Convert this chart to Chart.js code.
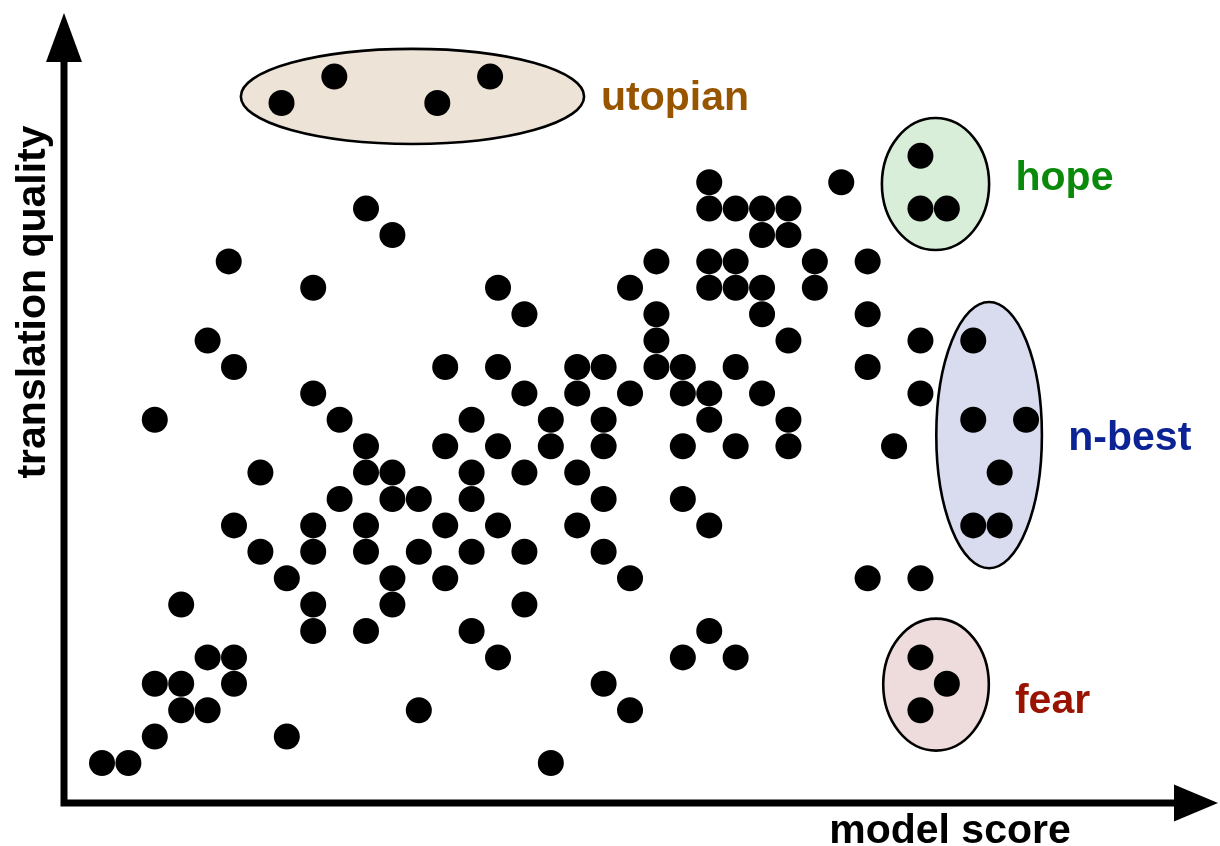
<!DOCTYPE html>
<html><head><meta charset="utf-8">
<script src="https://cdn.jsdelivr.net/npm/chart.js@4/dist/chart.umd.min.js"></script>
<style>html,body{margin:0;padding:0;background:#fff;overflow:hidden}#wrap{width:1220px;height:846px;position:relative}</style>
</head><body><div id="wrap"><canvas id="c" width="1220" height="846"></canvas></div>
<script>
// ---- data (model score = x, translation quality = y) ----
const qualityLevels = [0,1,2,3,4,5,6,7,8,9,10,11,12,13,14,15,16,17,18,19,20,21,22];
const scoresPerLevel = [
  [0,1,17],
  [2,7],
  [3,4,12,20],
  [2,3,5,19],
  [4,5,15,22,24],
  [8,10,14,23],
  [3,8,11,16],
  [7,11,13,20,29,31],
  [6,8,10,12,14,16,19],
  [5,8,10,13,15,18,23],
  [9,11,12,14,19,22],
  [6,10,11,14,16,18],
  [10,13,15,17,19,22,24,26,30],
  [2,9,14,17,19,23,26],
  [8,16,18,20,22,23,25,31],
  [5,13,15,18,19,21,22,24,29],
  [4,21,26,31],
  [16,21,25,29],
  [8,15,20,23,24,25,27],
  [4.8,21,23,24,27,29],
  [11,25,26],
  [10,23,24,25,26],
  [23,28]
];
const utopianScore = [6.8, 8.8, 12.7, 14.7];
const utopianQuality = [25.0, 26.0, 25.0, 26.0];
const hopeScore = [31, 31, 32];
const hopeQuality = [23, 21, 21];
const nbestScore = [33, 33, 35, 34, 33, 34];
const nbestQuality = [16, 13, 13, 11, 9, 9];
const fearScore = [31, 32, 31];
const fearQuality = [4, 3, 2];
const groupLabels = ['utopian', 'hope', 'n-best', 'fear'];
const axisTitles = ['model score', 'translation quality'];

// ---- build datasets ----
const cloud = [];
qualityLevels.forEach((q, i) => scoresPerLevel[i].forEach(s => cloud.push({x: s, y: q})));
const zip = (xs, ys) => xs.map((x, i) => ({x, y: ys[i]}));
const groupData = [zip(utopianScore, utopianQuality), zip(hopeScore, hopeQuality), zip(nbestScore, nbestQuality), zip(fearScore, fearQuality)];

// ---- annotation styling (data units) ----
const groupStyle = [
  {fill: '#ede3d7', text: '#985500', cx: 11.76, cy: 25.25, rx: 6.5, ry: 1.8, lx: 18.9, ly: 25.18},
  {fill: '#d9eed9', text: '#0a8a0a', cx: 31.57, cy: 21.93, rx: 2.03, ry: 2.5, lx: 34.6, ly: 22.15},
  {fill: '#d9dcef', text: '#0c2396', cx: 33.6, cy: 12.42, rx: 2.0, ry: 5.04, lx: 36.6, ly: 12.3},
  {fill: '#eedcdc', text: '#9a1200', cx: 31.59, cy: 2.97, rx: 2.0, ry: 2.5, lx: 34.58, ly: 2.34}
];
const FONT = '"Liberation Sans", Arial, Helvetica, sans-serif';

const overlay = {
  id: 'overlay',
  beforeDatasetsDraw(chart) {
    const {ctx, scales: {x, y}} = chart;
    ctx.save();
    groupStyle.forEach(g => {
      const px = x.getPixelForValue(g.cx), py = y.getPixelForValue(g.cy);
      const rx = Math.abs(x.getPixelForValue(g.cx + g.rx) - px);
      const ry = Math.abs(y.getPixelForValue(g.cy + g.ry) - py);
      ctx.beginPath();
      ctx.ellipse(px, py, rx, ry, 0, 0, Math.PI * 2);
      ctx.fillStyle = g.fill;
      ctx.fill();
      ctx.lineWidth = 2.6;
      ctx.strokeStyle = '#000';
      ctx.stroke();
    });
    ctx.restore();
  },
  afterDatasetsDraw(chart) {
    const {ctx, chartArea: a, scales: {x, y}} = chart;
    ctx.save();
    // group labels
    ctx.font = 'bold 41px ' + FONT;
    ctx.textBaseline = 'middle';
    ctx.textAlign = 'left';
    groupStyle.forEach((g, i) => {
      ctx.fillStyle = g.text;
      ctx.fillText(groupLabels[i], x.getPixelForValue(g.lx), y.getPixelForValue(g.ly));
    });
    // axes with arrows
    ctx.fillStyle = '#000';
    ctx.strokeStyle = '#000';
    ctx.lineWidth = 7;
    ctx.lineCap = 'butt';
    ctx.beginPath();
    ctx.moveTo(a.left, a.top + 45);
    ctx.lineTo(a.left, a.bottom + 3.5);
    ctx.moveTo(a.left - 3.5, a.bottom);
    ctx.lineTo(a.right - 40, a.bottom);
    ctx.stroke();
    ctx.beginPath();
    ctx.moveTo(a.left, a.top);
    ctx.lineTo(a.left - 18, a.top + 49);
    ctx.lineTo(a.left + 18, a.top + 49);
    ctx.closePath();
    ctx.fill();
    ctx.beginPath();
    ctx.moveTo(a.right, a.bottom);
    ctx.lineTo(a.right - 44, a.bottom - 18.5);
    ctx.lineTo(a.right - 44, a.bottom + 18.5);
    ctx.closePath();
    ctx.fill();
    // axis titles
    ctx.font = 'bold 41px ' + FONT;
    ctx.textAlign = 'center';
    ctx.textBaseline = 'alphabetic';
    ctx.fillText(axisTitles[0], 950, 843);
    ctx.translate(45, 302);
    ctx.rotate(-Math.PI / 2);
    ctx.fillText(axisTitles[1], 0, 0);
    ctx.restore();
  }
};

const pointStyle = {backgroundColor: '#000', borderWidth: 0, pointRadius: 13, pointHoverRadius: 13, clip: false};
new Chart(document.getElementById('c'), {
  type: 'scatter',
  data: {
    datasets: [
      Object.assign({label: 'n-best list', data: cloud}, pointStyle),
      ...groupData.map((d, i) => Object.assign({label: groupLabels[i], data: d}, pointStyle))
    ]
  },
  options: {
    responsive: false,
    animation: false,
    devicePixelRatio: 1,
    layout: {autoPadding: false, padding: {left: 64, top: 13, right: 2, bottom: 43}},
    plugins: {legend: {display: false}, tooltip: {enabled: false}, title: {display: false}},
    scales: {
      x: {type: 'linear', display: false, min: -1.439, max: 42.27},
      y: {type: 'linear', display: false, min: -1.515, max: 28.41}
    }
  },
  plugins: [overlay]
});
</script>
</body></html>
